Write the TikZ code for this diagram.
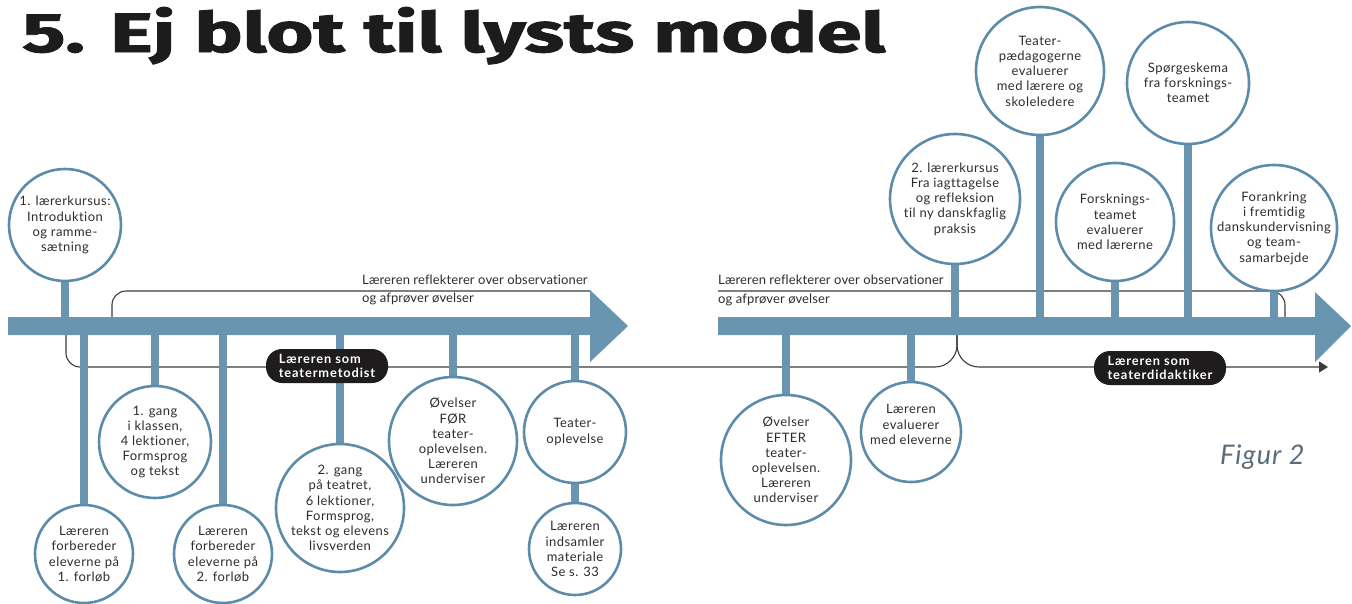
\documentclass[tikz,border=0pt]{standalone}
\usepackage{graphicx}
\usepackage{fontspec}
\setmainfont{Lato}[Ligatures={NoCommon}]
\newfontfamily\titlefont[FakeBold=1.5]{Fira Sans}
\newfontfamily\bubfont[LetterSpace=3.5,Ligatures={NoCommon}]{Lato}
\newfontfamily\pillfont[LetterSpace=7.0,Ligatures={NoCommon}]{Lato}
\newfontfamily\notefont[LetterSpace=1.0,Ligatures={NoCommon}]{Lato}
\newfontfamily\figfont[LetterSpace=4.0]{Lato}
\usetikzlibrary{arrows.meta,backgrounds}
\definecolor{barblue}{RGB}{106,149,177}
\definecolor{ringblue}{RGB}{92,140,170}
\definecolor{txt}{RGB}{48,44,42}
\definecolor{linegray}{RGB}{60,60,60}
\definecolor{pillblack}{RGB}{30,28,28}
\definecolor{figcol}{RGB}{88,108,124}
\definecolor{titleblack}{RGB}{28,28,28}
\begin{document}
\begin{tikzpicture}[x=1pt,y=-1pt,
 bub/.style={circle,draw=ringblue,line width=2.6pt,fill=white,inner sep=-30pt,minimum size=#1,align=center,text=txt,font=\bubfont\fontsize{13}{15.2}\selectfont},
 stem/.style={draw=barblue,line width=8pt},
 bararrow/.style={fill=barblue},
 thinl/.style={draw=linegray,line width=1.1pt},
 pill/.style={fill=pillblack,rounded corners=16pt,minimum width=#1,minimum height=34pt,text=white,align=left,font=\pillfont\bfseries\fontsize{12.8}{14.5}\selectfont},
 note/.style={anchor=base west,inner sep=0,text=txt,font=\notefont\fontsize{13}{15}\selectfont}
]
\useasboundingbox (0,0) rectangle (1352,603);
\coordinate (barL) at (0,326);

% title and figure label
\node[anchor=base west,inner sep=0,text=titleblack] (title) at (22,52) {\resizebox{863pt}{45pt}{\titlefont\bfseries 5. Ej blot til lysts model}};
\node[anchor=base west,inner sep=0,text=figcol,font=\figfont\itshape\fontsize{27}{30}\selectfont] (fig) at (1220,464) {Figur 2};

% circles
\node[bub=112] (c1) at (65,225) {1. lærerkursus:\\Introduktion\\og ramme-\\sætning};
\node[bub=98] (c2) at (84,554) {Læreren\\forbereder\\eleverne på\\1. forløb};
\node[bub=112] (c3) at (155,442) {1. gang\\i klassen,\\4 lektioner,\\Formsprog\\og tekst};
\node[bub=98] (c4) at (223,554) {Læreren\\forbereder\\eleverne på\\2. forløb};
\node[bub=128] (c5) at (340,508) {2. gang\\på teatret,\\6 lektioner,\\Formsprog,\\tekst og elevens\\livsverden};
\node[bub=128] (c6) at (453,441) {Øvelser\\FØR\\teater-\\oplevelsen.\\Læreren\\underviser};
\node[bub=102] (c7) at (575,432) {Teater-\\oplevelse};
\node[bub=92] (c7b) at (575,549) {Læreren\\indsamler\\materiale\\Se s. 33};
\node[bub=130] (c8) at (786,460) {Øvelser\\EFTER\\teater-\\oplevelsen.\\Læreren\\underviser};
\node[bub=100] (c9) at (911,432) {Læreren\\evaluerer\\med eleverne\\ \mbox{}};
\node[bub=130] (c10) at (955,199) {2. lærerkursus\\Fra iagttagelse\\og refleksion\\til ny danskfaglig\\praksis};
\node[bub=128] (c11) at (1040,71) {Teater-\\pædagogerne\\evaluerer\\med lærere og\\skoleledere};
\node[bub=118] (c12) at (1115,222) {Forsknings-\\teamet\\evaluerer\\med lærerne};
\node[bub=122] (c13) at (1188,83) {Spørgeskema\\fra forsknings-\\teamet};
\node[bub=126] (c14) at (1274,228) {Forankring\\i fremtidig\\danskundervisning\\og team-\\samarbejde};

% pills
\node[pill=122] (p1) at (327,366) {Læreren som\\teatermetodist};
\node[pill=132] (p2) at (1160,368) {Læreren som\\teaterdidaktiker};

% notes
\node[note] (n1) at (362,284) {Læreren reflekterer over observationer};
\node[note] (n2) at (362,302) {og afprøver øvelser};
\node[note] (n3) at (718,284) {Læreren reflekterer over observationer};
\node[note] (n4) at (718,303) {og afprøver øvelser};

\begin{scope}[on background layer]
\fill[white] (0,0) rectangle (1352,603);
% thin bracket lines
\draw[thinl,rounded corners=14pt] (112,317) |- (590,291);
\draw[thinl,rounded corners=14pt] (66,335) |- (690,367);
\draw[thinl,rounded corners=14pt] (718,291) -| (1285,317);
\draw[thinl,rounded corners=22pt] (690,367) -| (957,335);
\draw[thinl,rounded corners=22pt,-{Triangle[length=9pt,width=11pt]}] (957,335) |- (1328,367);
% arrows
\fill[bararrow] (8,317) -- (590,317) -- (590,290) -- (628,326) -- (590,362) -- (590,335) -- (8,335) -- cycle;
\fill[bararrow] (718,317) -- (1315,317) -- (1315,292) -- (1351,326) -- (1315,362) -- (1315,335) -- (718,335) -- cycle;
% stems
\foreach \c in {c1,c2,c3,c4,c5,c6,c7,c8,c9,c10,c11,c12,c13,c14}
  \draw[stem] (\c.center) -- (\c.center |- barL);
\draw[stem] (c7) -- (c7b);
\end{scope}
\end{tikzpicture}
\end{document}
